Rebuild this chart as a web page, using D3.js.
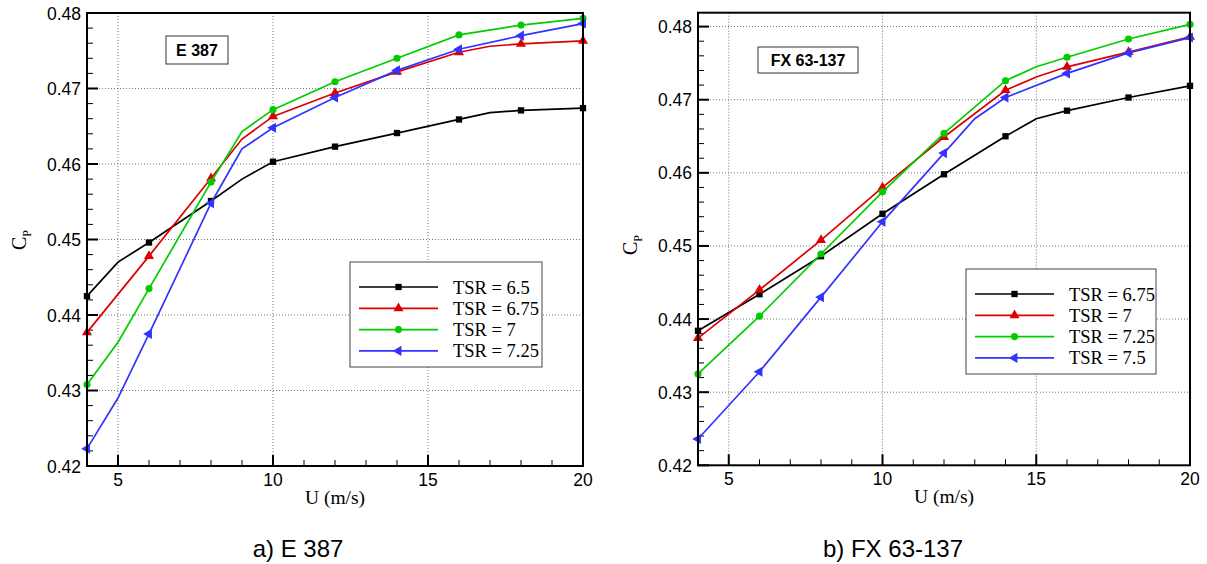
<!DOCTYPE html>
<html>
<head>
<meta charset="utf-8">
<script src="https://cdn.jsdelivr.net/npm/d3@7"></script>
<style>
  html, body { margin: 0; padding: 0; background: #fff; }
  svg { display: block; }
  .tick-label { font-family: "Liberation Sans", Arial, sans-serif; font-size: 17.5px; fill: #000; }
  .serif { font-family: "Liberation Serif", "Times New Roman", serif; fill: #000; }
</style>
</head>
<body>
<svg id="chart" width="1207" height="564"></svg>
<script>
// ---------- DATA ----------
const xTickValues = [5, 10, 15, 20];
const yTickValues = [0.42, 0.43, 0.44, 0.45, 0.46, 0.47, 0.48];
const yTickLabels = ["0.42", "0.43", "0.44", "0.45", "0.46", "0.47", "0.48"];

// a) E 387
const e387Names = ["TSR = 6.5", "TSR = 6.75", "TSR = 7", "TSR = 7.25"];
const e387_U_65  = [4, 5, 6, 8, 9, 10, 12, 14, 16, 17, 18, 20];
const e387_Cp_65 = [0.4425, 0.4470, 0.4496, 0.4551, 0.4580, 0.4603, 0.4623, 0.4641, 0.4659, 0.4668, 0.4671, 0.4674];
const e387_U_675  = [4, 6, 8, 9, 10, 12, 14, 16, 17, 18, 20];
const e387_Cp_675 = [0.4377, 0.4478, 0.4581, 0.4633, 0.4663, 0.4694, 0.4722, 0.4748, 0.4756, 0.4759, 0.4763];
const e387_U_7  = [4, 5, 6, 8, 9, 10, 12, 14, 16, 18, 20];
const e387_Cp_7 = [0.4308, 0.4364, 0.4435, 0.4576, 0.4643, 0.4672, 0.4709, 0.4740, 0.4771, 0.4784, 0.4793];
const e387_U_725  = [4, 5, 6, 8, 9, 10, 12, 14, 16, 18, 20];
const e387_Cp_725 = [0.4223, 0.4290, 0.4375, 0.4548, 0.4620, 0.4648, 0.4688, 0.4724, 0.4752, 0.4770, 0.4786];

// b) FX 63-137
const fxNames = ["TSR = 6.75", "TSR = 7", "TSR = 7.25", "TSR = 7.5"];
const fx_U_675  = [4, 6, 8, 10, 12, 14, 15, 16, 18, 20];
const fx_Cp_675 = [0.4384, 0.4434, 0.4486, 0.4544, 0.4598, 0.4650, 0.4674, 0.4685, 0.4703, 0.4719];
const fx_U_7  = [4, 6, 8, 10, 12, 14, 15, 16, 18, 20];
const fx_Cp_7 = [0.4374, 0.4440, 0.4508, 0.4580, 0.4649, 0.4713, 0.4731, 0.4745, 0.4765, 0.4786];
const fx_U_725  = [4, 6, 8, 10, 12, 14, 15, 16, 18, 20];
const fx_Cp_725 = [0.4325, 0.4404, 0.4489, 0.4574, 0.4654, 0.4726, 0.4745, 0.4758, 0.4783, 0.4803];
const fx_U_75  = [4, 6, 8, 10, 12, 13, 14, 16, 18, 20];
const fx_Cp_75 = [0.4236, 0.4328, 0.4430, 0.4533, 0.4627, 0.4674, 0.4703, 0.4736, 0.4764, 0.4785];

// ---------- STYLE ----------
const colors = ["#000000", "#dd0000", "#00cc00", "#3333ff"];
const markerTypes = ["square", "triangleUp", "circle", "triangleLeft"];

const svg = d3.select("#chart");

function markerPath(type) {
  if (type === "square") return d3.symbol(d3.symbolSquare, 40)();
  if (type === "circle") return d3.symbol(d3.symbolCircle, 40)();
  return d3.symbol(d3.symbolTriangle, 44)();
}
function markerRot(type) { return type === "triangleLeft" ? -90 : 0; }

function zipSeries(us, cps) { return us.map((u, i) => ({u: u, cp: cps[i]})); }

function drawPanel(cfg) {
  const x = d3.scaleLinear().domain([4, 20]).range([cfg.left, cfg.right]);
  const y = d3.scaleLinear().domain([0.42, cfg.yTop]).range([cfg.bottom, cfg.top]);
  const g = svg.append("g");

  // grid
  const gridY = yTickValues.filter(v => v > 0.42 && y(v) > cfg.top + 2);
  g.selectAll(".gy").data(gridY).enter().append("line")
    .attr("x1", cfg.left).attr("x2", cfg.right)
    .attr("y1", d => y(d)).attr("y2", d => y(d))
    .attr("stroke", "#777").attr("stroke-width", 1).attr("stroke-dasharray", "1,2");
  g.selectAll(".gx").data(xTickValues.filter(v => v < 20)).enter().append("line")
    .attr("x1", d => x(d)).attr("x2", d => x(d))
    .attr("y1", cfg.top).attr("y2", cfg.bottom)
    .attr("stroke", "#777").attr("stroke-width", 1).attr("stroke-dasharray", "1,2");

  // minor/major ticks (inward)
  const minorY = d3.range(0.422, cfg.yTop, 0.002).filter(v => Math.abs(Math.round(v * 100) - v * 100) > 1e-6);
  g.selectAll(".myt").data(minorY).enter().append("line")
    .attr("x1", cfg.left).attr("x2", cfg.left + 6)
    .attr("y1", d => y(d)).attr("y2", d => y(d))
    .attr("stroke", "#000").attr("stroke-width", 1);
  const majorY = yTickValues.filter(v => y(v) >= cfg.top - 0.5);
  g.selectAll(".Myt").data(majorY).enter().append("line")
    .attr("x1", cfg.left).attr("x2", cfg.left + 11)
    .attr("y1", d => y(d)).attr("y2", d => y(d))
    .attr("stroke", "#000").attr("stroke-width", 2);
  const minorX = d3.range(4, 20, 1).filter(v => v % 5 !== 0 && v > 4);
  g.selectAll(".mxt").data(minorX).enter().append("line")
    .attr("x1", d => x(d)).attr("x2", d => x(d))
    .attr("y1", cfg.bottom).attr("y2", cfg.bottom - 6)
    .attr("stroke", "#000").attr("stroke-width", 1);
  g.selectAll(".Mxt").data(xTickValues).enter().append("line")
    .attr("x1", d => x(d)).attr("x2", d => x(d))
    .attr("y1", cfg.bottom).attr("y2", cfg.bottom - 11)
    .attr("stroke", "#000").attr("stroke-width", 2);

  // tick labels
  g.selectAll(".ytl").data(majorY).enter().append("text")
    .attr("class", "tick-label")
    .attr("x", cfg.left - 6).attr("y", d => y(d) + 6.5)
    .attr("text-anchor", "end")
    .text(d => yTickLabels[yTickValues.indexOf(d)]);
  g.selectAll(".xtl").data(xTickValues).enter().append("text")
    .attr("class", "tick-label")
    .attr("x", d => x(d)).attr("y", cfg.bottom + 20)
    .attr("text-anchor", "middle")
    .text(d => d);

  // series
  const line = d3.line().x(d => x(d.u)).y(d => y(d.cp));
  cfg.series.forEach((s, i) => {
    const pts = zipSeries(s.u, s.cp);
    g.append("path").datum(pts).attr("d", line)
      .attr("fill", "none").attr("stroke", colors[i]).attr("stroke-width", 1.7);
    g.selectAll(".mk" + i).data(pts.filter(p => p.u % 2 === 0)).enter().append("path")
      .attr("d", markerPath(markerTypes[i]))
      .attr("transform", d => `translate(${x(d.u)},${y(d.cp)}) rotate(${markerRot(markerTypes[i])})`)
      .attr("fill", colors[i]);
  });

  // frame
  g.append("rect").attr("x", cfg.left).attr("y", cfg.top)
    .attr("width", cfg.right - cfg.left).attr("height", cfg.bottom - cfg.top)
    .attr("fill", "none").attr("stroke", "#000").attr("stroke-width", 2);

  // title box
  const tb = g.append("g");
  tb.append("rect").attr("x", cfg.titleBox[0]).attr("y", cfg.titleBox[1])
    .attr("width", cfg.titleBox[2]).attr("height", cfg.titleBox[3])
    .attr("fill", "#fff").attr("stroke", "#333").attr("stroke-width", 1);
  tb.append("text").attr("x", cfg.titleBox[0] + cfg.titleBox[2] / 2)
    .attr("y", cfg.titleBox[1] + cfg.titleBox[3] / 2 + 6)
    .attr("text-anchor", "middle")
    .style("font-family", "'Liberation Sans', Arial, sans-serif")
    .style("font-weight", "bold").style("font-size", "16px")
    .text(cfg.title);

  // legend
  const lg = g.append("g");
  lg.append("rect").attr("x", cfg.legend[0]).attr("y", cfg.legend[1])
    .attr("width", cfg.legend[2]).attr("height", cfg.legend[3])
    .attr("fill", "#fff").attr("stroke", "#444").attr("stroke-width", 1);
  cfg.names.forEach((n, i) => {
    const ly = cfg.legend[1] + 25 + i * 21.3;
    const lx0 = cfg.legend[0] + 9, lx1 = cfg.legend[0] + 88;
    lg.append("line").attr("x1", lx0).attr("x2", lx1).attr("y1", ly).attr("y2", ly)
      .attr("stroke", colors[i]).attr("stroke-width", 1.7);
    lg.append("path").attr("d", markerPath(markerTypes[i]))
      .attr("transform", `translate(${(lx0 + lx1) / 2},${ly}) rotate(${markerRot(markerTypes[i])})`)
      .attr("fill", colors[i]);
    lg.append("text").attr("class", "serif").style("font-size", "18.5px")
      .attr("x", cfg.legend[0] + 103).attr("y", ly + 6.5).text(n);
  });

  // axis labels
  g.append("text").attr("class", "serif").style("font-size", "19.5px")
    .attr("x", (cfg.left + cfg.right) / 2).attr("y", cfg.bottom + 38)
    .attr("text-anchor", "middle").text("U (m/s)");
  const yl = g.append("text").attr("class", "serif").style("font-size", "20px")
    .attr("transform", `translate(${cfg.left - 61},${cfg.yLabelY}) rotate(-90)`)
    .attr("text-anchor", "middle");
  yl.append("tspan").text("C");
  yl.append("tspan").attr("dy", 5).style("font-size", "12px").text("P");

  // caption
  svg.append("text").attr("x", cfg.captionX).attr("y", 557)
    .attr("text-anchor", "middle")
    .style("font-family", "'Liberation Sans', Arial, sans-serif")
    .style("font-size", "24px").text(cfg.caption);
}

drawPanel({
  left: 87, right: 583, top: 13, bottom: 466, yTop: 0.48,
  series: [
    {u: e387_U_65, cp: e387_Cp_65},
    {u: e387_U_675, cp: e387_Cp_675},
    {u: e387_U_7, cp: e387_Cp_7},
    {u: e387_U_725, cp: e387_Cp_725}
  ],
  names: e387Names,
  title: "E 387", titleBox: [166, 36, 62, 28],
  legend: [350, 262, 192, 105],
  yLabelY: 240,
  caption: "a) E 387", captionX: 298
});

drawPanel({
  left: 698, right: 1190, top: 12.7, bottom: 465.3, yTop: 0.4819,
  series: [
    {u: fx_U_675, cp: fx_Cp_675},
    {u: fx_U_7, cp: fx_Cp_7},
    {u: fx_U_725, cp: fx_Cp_725},
    {u: fx_U_75, cp: fx_Cp_75}
  ],
  names: fxNames,
  title: "FX 63-137", titleBox: [758, 47, 100, 26],
  legend: [966, 269, 190, 105],
  yLabelY: 245,
  caption: "b) FX 63-137", captionX: 893
});
</script>
</body>
</html>
